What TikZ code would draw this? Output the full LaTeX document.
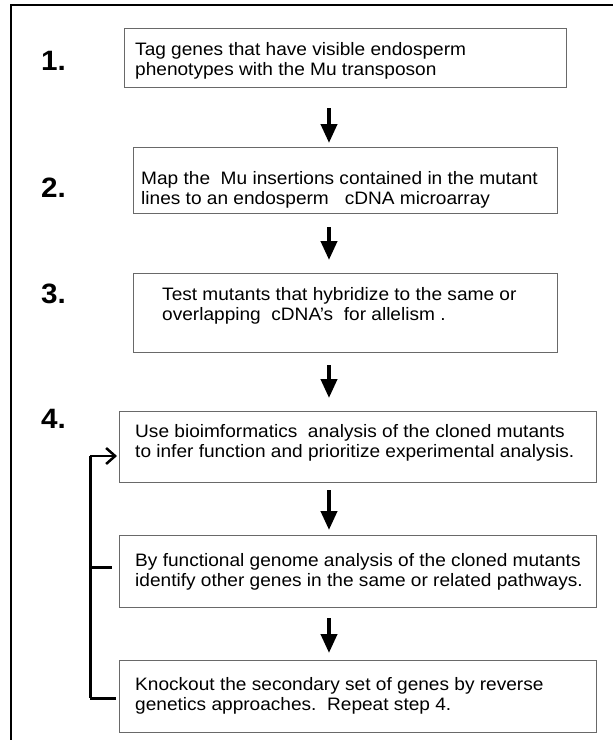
\documentclass[tikz,border=0pt]{standalone}
\usepackage{fontspec}
\setmainfont{Liberation Sans}[FakeStretch=1.06]
\usetikzlibrary{arrows.meta}
\definecolor{boxgray}{RGB}{105,105,105}
\begin{document}
\begin{tikzpicture}[x=1pt,y=-1pt,
  stepbox/.style={draw=boxgray, line width=1.3pt, rectangle, inner sep=0pt, anchor=north west},
  steptext/.style={anchor=west, inner sep=0pt, align=left, font=\fontsize{18}{20.5}\selectfont},
  steplabel/.style={anchor=base west, inner sep=0pt, font=\fontsize{28}{30}\selectfont\bfseries},
  bigarrow/.style={line width=4pt, -{Triangle[width=16pt,length=19pt]}},
  brk/.style={line width=3pt, black}]
\useasboundingbox (0,0) rectangle (613,740);
% outer frame
\draw[line width=2pt] (11,740) -- (11,5) -- (613,5);
% boxes
\node[stepbox, minimum width=442pt, minimum height=59pt] (b1) at (124,28) {};
\node[stepbox, minimum width=424pt, minimum height=66pt] (b2) at (133,147) {};
\node[stepbox, minimum width=424pt, minimum height=79pt] (b3) at (133,273) {};
\node[stepbox, minimum width=477pt, minimum height=71pt] (b4) at (119,411) {};
\node[stepbox, minimum width=477pt, minimum height=72pt] (b5) at (119,535) {};
\node[stepbox, minimum width=477pt, minimum height=72pt] (b6) at (119,660) {};
% texts
\node[steptext] (t1) at (135,61) {Tag genes that have visible endosperm\\phenotypes with the Mu transposon};
\node[steptext] (t2) at (141,190) {Map the\ \ Mu insertions contained in the mutant\\lines to an endosperm\ \ \ cDNA microarray};
\node[steptext] (t3) at (162,306) {Test mutants that hybridize to the same or\\overlapping\ \ cDNA’s\ \ for allelism\ .};
\node[steptext] (t4) at (135,443) {Use bioimformatics\ \ analysis of the cloned mutants\\to infer function and prioritize experimental analysis.};
\node[steptext] (t5) at (135,572) {By functional genome analysis of the cloned mutants\\identify other genes in the same or related pathways.};
\node[steptext] (t6) at (135,696) {Knockout the secondary set of genes by reverse\\genetics approaches.\ \ Repeat step 4.};
% labels
\node[steplabel] (l1) at (41,70) {1.};
\node[steplabel] (l2) at (41,197) {2.};
\node[steplabel] (l3) at (41,303) {3.};
\node[steplabel] (l4) at (41,428) {4.};
% arrows
\coordinate (a1s) at (329,108); \coordinate (a1e) at (329,143);
\coordinate (a2s) at (329,227); \coordinate (a2e) at (329,260);
\coordinate (a3s) at (329,365); \coordinate (a3e) at (329,398);
\coordinate (a4s) at (329,490); \coordinate (a4e) at (329,530);
\coordinate (a5s) at (329,618); \coordinate (a5e) at (329,653);
\draw[bigarrow] (a1s) -- (a1e);
\draw[bigarrow] (a2s) -- (a2e);
\draw[bigarrow] (a3s) -- (a3e);
\draw[bigarrow] (a4s) -- (a4e);
\draw[bigarrow] (a5s) -- (a5e);
% loop bracket
\coordinate (bt) at (90,456);
\coordinate (bm) at (90,567);
\coordinate (bb) at (90,698);
\draw[brk] (bt) -- (bb);
\draw[line width=2.5pt, -{Straight Barb[length=9pt,width=16pt]}, shorten >=2pt] (bt) -- (bt -| b4.west);
\draw[brk, shorten >=7pt] (bm) -- (bm -| b5.west);
\draw[brk, shorten >=3pt] (bb) -- (bb -| b6.west);
\end{tikzpicture}
\end{document}
